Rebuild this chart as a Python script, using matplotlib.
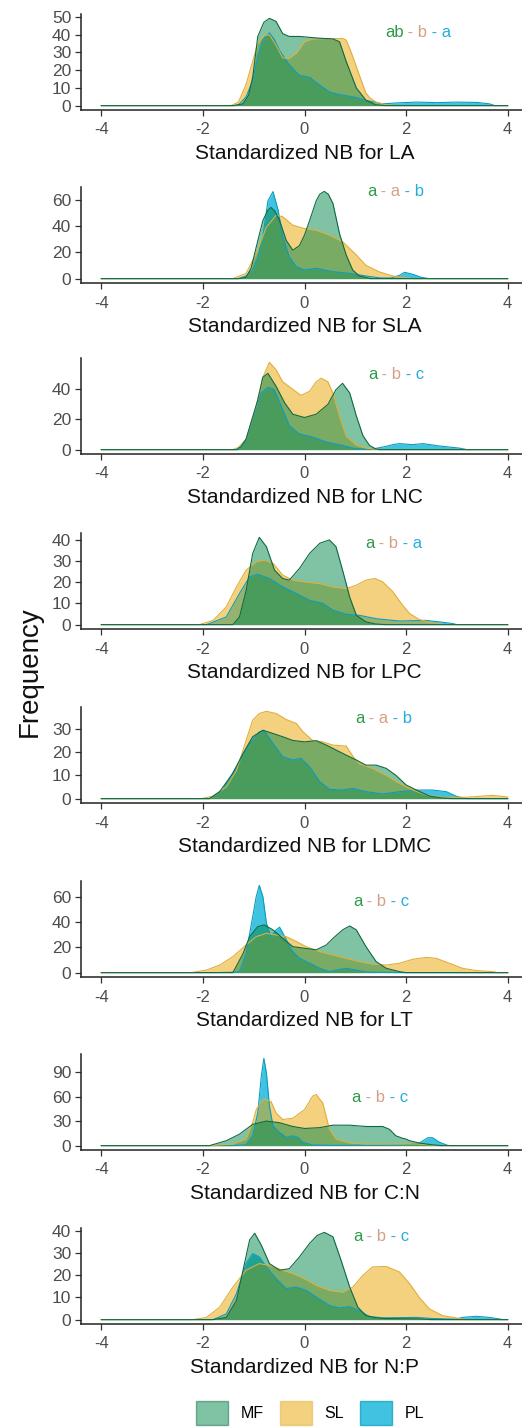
import matplotlib
matplotlib.use('Agg')
import matplotlib.pyplot as plt
from matplotlib.patches import Patch

plt.rcParams['font.family'] = ['Liberation Sans', 'DejaVu Sans']

TRAITS = ['LA', 'SLA', 'LNC', 'LPC', 'LDMC', 'LT', 'C:N', 'N:P']
GROUPS = ['MF', 'SL', 'PL']

LA_MF = [(-4,0),(-1.4,0),(-1.21,1),(-1.1,6),(-1.02,16),(-0.92,39),(-0.8,47),(-0.69,49.2),(-0.56,47.5),(-0.43,40.6),(-0.3,39),(-0.1,39),(0.1,38.5),(0.3,38),(0.56,37.6),(0.69,36),(0.82,25),(1.02,10),(1.21,3),(1.4,0.5),(1.6,0),(4,0)]
LA_SL = [(-4,0),(-1.45,0),(-1.3,2),(-1.15,12),(-1.02,25),(-0.92,35),(-0.8,39.5),(-0.69,40),(-0.56,34),(-0.43,27),(-0.3,26.5),(-0.15,30),(0,36),(0.16,37.6),(0.4,37.8),(0.6,37.8),(0.75,37.8),(0.82,37),(0.92,30),(1.02,22),(1.12,14),(1.21,7),(1.3,4),(1.41,2),(1.6,0.5),(1.8,0),(4,0)]
LA_PL = [(-4,0),(-1.35,0),(-1.28,1),(-1.15,5),(-1.02,14),(-0.92,28),(-0.82,37),(-0.69,41),(-0.59,37),(-0.49,31),(-0.3,23),(-0.1,17),(0.1,16),(0.3,11.5),(0.49,7.7),(0.69,6.2),(0.95,5),(1.21,3),(1.54,1),(1.8,1.5),(2.2,2),(2.6,1.7),(3.0,2),(3.4,1.8),(3.64,1),(3.75,0),(4,0)]

SLA_MF = [(-4,0),(-1.3,0),(-1.15,1),(-1.05,8),(-0.95,24),(-0.82,44),(-0.72,52),(-0.66,54),(-0.58,51),(-0.49,44),(-0.36,29),(-0.23,21.6),(-0.1,25),(0.0,33),(0.1,44),(0.23,59),(0.3,64),(0.39,66.2),(0.47,64),(0.56,57),(0.69,34),(0.82,18),(0.95,6.5),(1.08,2),(1.3,0),(4,0)]
SLA_SL = [(-4,0),(-1.41,0),(-1.15,4),(-0.95,19),(-0.75,39),(-0.56,48),(-0.43,47),(-0.23,40.5),(0,38),(0.23,36.8),(0.49,33),(0.75,28),(1.02,18),(1.21,10),(1.48,5),(1.74,2),(2.0,0.5),(2.2,0),(4,0)]
SLA_PL = [(-4,0),(-1.3,0),(-1.15,2),(-1.02,6.5),(-0.92,16),(-0.82,32),(-0.72,59),(-0.62,66),(-0.52,52),(-0.43,32),(-0.3,16.6),(-0.16,9),(0,6.5),(0.23,7.8),(0.56,5.3),(0.89,4),(1.21,2),(1.5,0.5),(1.7,0.5),(1.87,2.5),(1.97,4.8),(2.13,3.3),(2.3,1),(2.45,0),(4,0)]

LNC_MF = [(-4,0),(-1.34,0),(-1.25,2),(-1.15,7),(-0.92,33),(-0.82,48),(-0.72,50.6),(-0.56,42),(-0.39,31),(-0.23,23.5),(0,21.3),(0.23,23.5),(0.46,30),(0.62,39.8),(0.75,44),(0.89,37.6),(1.02,22.4),(1.15,9.3),(1.28,2.8),(1.4,0.5),(1.5,0),(4,0)]
LNC_SL = [(-4,0),(-1.41,0),(-1.3,1.5),(-1.15,7),(-0.95,29),(-0.82,48),(-0.69,57.9),(-0.56,53),(-0.43,45),(-0.23,40),(-0.07,36),(0.1,38.7),(0.23,45),(0.33,47.4),(0.46,45),(0.56,37.6),(0.69,22),(0.82,9),(1.02,3),(1.21,1),(1.48,0),(4,0)]
LNC_PL = [(-4,0),(-1.28,0),(-1.15,6),(-1.02,20),(-0.85,37.6),(-0.72,41.3),(-0.6,40),(-0.46,29),(-0.3,16),(-0.1,10.4),(0.16,8.3),(0.43,5),(0.75,2.8),(0.95,1),(1.21,0.3),(1.4,0.8),(1.54,1.7),(1.74,3.3),(1.87,4),(2.13,3.3),(2.33,4),(2.66,2.4),(3.05,1),(3.2,0),(4,0)]

LPC_MF = [(-4,0),(-1.41,0),(-1.28,3.6),(-1.15,16),(-1.02,33.6),(-0.89,41.2),(-0.75,36.8),(-0.59,25.7),(-0.43,21.8),(-0.3,21),(-0.1,26.5),(0.1,33.6),(0.3,38.4),(0.49,40),(0.62,36.8),(0.75,25.7),(0.89,13),(1.02,4.4),(1.21,1.3),(1.4,0.3),(1.6,0),(4,0)]
LPC_SL = [(-4,0),(-2.07,0),(-1.8,2),(-1.54,8.4),(-1.34,17.8),(-1.15,25.7),(-0.95,29.7),(-0.79,30.5),(-0.62,29),(-0.43,23.4),(-0.23,21),(0,20.2),(0.3,19.4),(0.56,17.8),(0.82,17),(1.02,18.6),(1.21,21),(1.38,21.8),(1.54,20.2),(1.74,15.5),(1.93,9.2),(2.07,5.2),(2.26,2.4),(2.52,0.8),(2.8,0),(4,0)]
LPC_PL = [(-4,0),(-1.93,0),(-1.54,3.6),(-1.28,14.7),(-1.08,22.6),(-0.92,23.7),(-0.69,21.8),(-0.43,17.8),(-0.16,14.7),(0.1,11.5),(0.36,10),(0.56,6.8),(0.82,4.9),(1.08,4.4),(1.41,2.8),(1.87,1.7),(2.39,2),(2.66,1.3),(2.92,0.5),(3.0,0),(4,0)]

LDMC_MF = [(-4,0),(-1.87,0),(-1.67,3),(-1.41,10.9),(-1.21,19.4),(-1.02,26.6),(-0.82,29.4),(-0.62,28),(-0.43,26.6),(-0.23,25),(0,24.4),(0.23,24.9),(0.43,23),(0.62,20.9),(0.82,18.7),(1.02,16.6),(1.21,14.4),(1.41,14.4),(1.61,13),(1.8,10),(2.0,5.9),(2.2,3.7),(2.46,1.1),(2.7,0.3),(2.9,0),(4,0)]
LDMC_SL = [(-4,0),(-2.03,0),(-1.8,1.1),(-1.54,5),(-1.34,12),(-1.15,25),(-1.02,33.7),(-0.89,36.6),(-0.75,37.5),(-0.56,36.6),(-0.36,34),(-0.16,32.3),(-0.03,28.7),(0.16,25),(0.36,24.4),(0.56,23),(0.82,22.6),(0.98,17.3),(1.08,15),(1.34,13),(1.61,10),(1.87,6.6),(2.13,3.7),(2.39,1.6),(2.72,0.6),(3.18,0.6),(3.51,1.1),(3.7,1.4),(4.0,0.7)]
LDMC_PL = [(-4,0),(-1.87,0),(-1.61,3.7),(-1.34,13.7),(-1.08,23.7),(-0.89,28.7),(-0.79,29),(-0.62,23.7),(-0.43,18),(-0.23,16.6),(-0.07,17.3),(0.1,13.7),(0.3,7.3),(0.49,4),(0.75,3.7),(0.95,4.4),(1.21,3),(1.54,2),(1.87,3),(2.2,3.7),(2.52,3.7),(2.79,3),(2.98,1.1),(3.11,0.3),(3.2,0),(4,0)]

LT_MF = [(-4,0),(-1.41,0),(-1.21,15),(-1.08,28.4),(-0.92,36.3),(-0.79,37.6),(-0.62,33.7),(-0.43,27),(-0.23,20.5),(0,19.2),(0.23,18),(0.43,21.8),(0.56,27),(0.75,33.7),(0.89,36.8),(1.02,33.7),(1.21,20.5),(1.41,8.7),(1.61,3.4),(1.87,0.8),(2.0,0),(4,0)]
LT_SL = [(-4,0),(-2.23,0),(-1.93,2),(-1.67,6),(-1.41,12.6),(-1.15,21.8),(-0.95,28.4),(-0.75,31),(-0.56,29.7),(-0.36,28.4),(-0.16,24.5),(0.03,20.5),(0.3,16.6),(0.56,14),(0.82,11.3),(1.08,8.7),(1.34,6.8),(1.61,6),(1.87,7.4),(2.13,10.5),(2.39,12),(2.59,11.3),(2.85,7.4),(3.11,3.4),(3.38,1.6),(3.7,0.8),(3.8,0),(4,0)]
LT_PL = [(-4,0),(-1.8,0),(-1.41,0.3),(-1.28,0.8),(-1.15,15),(-1.02,44),(-0.95,60),(-0.89,68.8),(-0.82,60),(-0.75,39),(-0.66,28.4),(-0.56,33.7),(-0.49,35.8),(-0.39,28.4),(-0.26,18),(-0.1,11.3),(0.1,7.4),(0.3,3.4),(0.49,0.8),(0.62,2),(0.82,3.4),(1.02,2),(1.21,0.5),(1.5,0.3),(2.0,0),(4,0)]

CN_MF = [(-4,0),(-1.87,0),(-1.54,6),(-1.28,14),(-1.02,26),(-0.75,30),(-0.49,28),(-0.23,23.4),(0,21),(0.3,22),(0.56,25),(0.89,25),(1.21,23.4),(1.54,23.4),(1.67,20),(1.8,12),(1.93,9),(2.0,8),(2.07,6),(2.26,3.2),(2.52,1),(2.7,0),(4,0)]
CN_SL = [(-4,0),(-1.87,0),(-1.41,2),(-1.15,8),(-1.02,28),(-0.95,44),(-0.85,54),(-0.79,57),(-0.66,54),(-0.56,40),(-0.43,32),(-0.23,33.5),(0,44),(0.16,60.5),(0.23,62.5),(0.36,52),(0.49,20),(0.62,8),(0.89,3.2),(1.21,2),(1.87,2),(2.2,2),(2.52,0.8),(2.6,0),(4,0)]
CN_PL = [(-4,0),(-1.41,0),(-1.15,1),(-1.02,12),(-0.92,40),(-0.85,85),(-0.8,106.7),(-0.75,89),(-0.69,48),(-0.62,24),(-0.49,16),(-0.36,10),(-0.23,12),(-0.13,10),(-0.03,4),(0.16,0.8),(0.56,0.3),(1.5,0.3),(1.74,0.5),(2.0,1),(2.26,3),(2.43,9.7),(2.52,9.7),(2.66,4),(2.82,0.3),(2.9,0),(4,0)]

NP_MF = [(-4,0),(-1.8,0),(-1.54,1),(-1.34,8.6),(-1.21,22.3),(-1.08,36),(-0.98,39),(-0.85,33.6),(-0.69,25.3),(-0.49,22.3),(-0.3,23),(-0.1,28.3),(0.1,34.4),(0.25,38),(0.39,39.4),(0.56,37.4),(0.72,26.8),(0.89,14.7),(1.05,5.6),(1.21,1.8),(1.41,0.8),(1.6,0.5),(2.3,0.3),(2.5,0),(4,0)]
NP_SL = [(-4,0),(-2.2,0),(-1.93,1),(-1.67,5.6),(-1.41,14.7),(-1.15,22.3),(-0.89,25.3),(-0.69,24.5),(-0.43,22.3),(-0.23,20.8),(0,18.5),(0.23,15.5),(0.49,13.2),(0.75,12.4),(0.95,14.7),(1.15,20),(1.34,23.8),(1.61,24),(1.87,21.5),(2.07,16.2),(2.26,10),(2.46,4.8),(2.72,1.8),(2.98,0.8),(3.2,0),(4,0)]
NP_PL = [(-4,0),(-1.8,0),(-1.54,2.6),(-1.34,11.7),(-1.15,25.3),(-1.02,29.8),(-0.89,28.3),(-0.75,23.8),(-0.56,18.5),(-0.36,14),(-0.16,14.7),(0.03,13.2),(0.23,10.2),(0.49,6.4),(0.69,5.3),(0.89,5.9),(1.08,4),(1.28,1.4),(1.54,0.8),(2.2,1),(2.52,0.5),(2.98,0.2),(3.11,1),(3.38,1.5),(3.64,1),(3.84,0.3),(3.9,0),(4,0)]

SERIES = [
    {'MF': LA_MF, 'SL': LA_SL, 'PL': LA_PL},
    {'MF': SLA_MF, 'SL': SLA_SL, 'PL': SLA_PL},
    {'MF': LNC_MF, 'SL': LNC_SL, 'PL': LNC_PL},
    {'MF': LPC_MF, 'SL': LPC_SL, 'PL': LPC_PL},
    {'MF': LDMC_MF, 'SL': LDMC_SL, 'PL': LDMC_PL},
    {'MF': LT_MF, 'SL': LT_SL, 'PL': LT_PL},
    {'MF': CN_MF, 'SL': CN_SL, 'PL': CN_PL},
    {'MF': NP_MF, 'SL': NP_SL, 'PL': NP_PL},
]

YTICKS = [[0,10,20,30,40,50],[0,20,40,60],[0,20,40],[0,10,20,30,40],[0,10,20,30],[0,20,40,60],[0,30,60,90],[0,10,20,30,40]]
XTICKS = [-4, -2, 0, 2, 4]
XTICKLABELS = ['-4', '-2', '0', '2', '4']

LETTERS = [['ab', 'b', 'a'], ['a', 'a', 'b'], ['a', 'b', 'c'], ['a', 'b', 'a'],
           ['a', 'a', 'b'], ['a', 'b', 'c'], ['a', 'b', 'c'], ['a', 'b', 'c']]
LETTER_POS = [(1.58, 41.5), (1.23, 66), (1.25, 50), (1.19, 38.4),
              (0.99, 34.5), (0.95, 56), (0.93, 58.5), (0.95, 37.4)]

# styling
W, H = 522, 1428
TOPS = [14, 187, 358, 533, 707, 881, 1054, 1228]
AX_H = 96
AX_L = 81
AX_W = 447
FILL = {'MF': '#00874A', 'SL': '#EBA500', 'PL': '#00AFD6'}
ALPHA = {'MF': 0.5, 'SL': 0.5, 'PL': 0.75}
EDGE = {'MF': '#0F6A44', 'SL': '#E0AE3A', 'PL': '#0A9CC0'}
LETTER_COL = ['#2E9A48', '#D4A088', '#23AEDC']
DRAW_ORDER = ['PL', 'SL', 'MF']

fig = plt.figure(figsize=(W / 100, H / 100), dpi=100)

for i, trait in enumerate(TRAITS):
    top = TOPS[i]
    ax = fig.add_axes([AX_L / W, 1 - (top + AX_H) / H, AX_W / W, AX_H / H])
    m = 0
    for g in DRAW_ORDER:
        xs, ys = zip(*SERIES[i][g])
        m = max(m, max(ys))
        ax.fill_between(xs, 0, ys, color=FILL[g], alpha=ALPHA[g], lw=0)
        ax.plot(xs, ys, color=EDGE[g], lw=0.8)
    ax.set_xlim(-4.4, 4.4)
    ax.set_ylim(-0.05 * m, 1.05 * m)
    ax.set_xticks(XTICKS)
    ax.set_xticklabels(XTICKLABELS)
    ax.set_yticks(YTICKS[i])
    for s in ['top', 'right']:
        ax.spines[s].set_visible(False)
    for s in ['left', 'bottom']:
        ax.spines[s].set_linewidth(1.1)
        ax.spines[s].set_color('#222222')
    ax.tick_params(axis='both', length=4, width=0.9, color='#333333',
                   labelcolor='#4D4D4D')
    ax.tick_params(axis='x', pad=5, labelsize=12)
    ax.tick_params(axis='y', pad=3, labelsize=12.5)
    ax.set_xlabel(f'Standardized NB for {trait}', fontsize=15, color='#111111', labelpad=5)
    ax.patch.set_alpha(0)

    # significance letters
    lx, ly = LETTER_POS[i]
    parts = [LETTERS[i][0], ' - ' + LETTERS[i][1], ' - ' + LETTERS[i][2]]
    t = ax.text(lx, ly, parts[0], color=LETTER_COL[0], fontsize=12, ha='left', va='center')
    for p, c in zip(parts[1:], LETTER_COL[1:]):
        t = ax.annotate(p, xy=(1, 0), xycoords=t, ha='left', va='bottom', color=c, fontsize=12)

fig.text(30 / W, 1 - 672 / H, 'Frequency', rotation=90, fontsize=20,
         ha='center', va='center', color='#111111')

handles = [Patch(facecolor=FILL[g], alpha=ALPHA[g], edgecolor=EDGE[g], linewidth=1.0) for g in GROUPS]
fig.legend(handles=handles, labels=GROUPS, loc='center', ncol=3,
           bbox_to_anchor=(310 / W, 1 - 1413 / H), frameon=False, fontsize=11.5,
           handlelength=2.0, handleheight=2.0, handletextpad=0.8, columnspacing=1.0,
           borderpad=0)

fig.savefig('out.png', dpi=100)
